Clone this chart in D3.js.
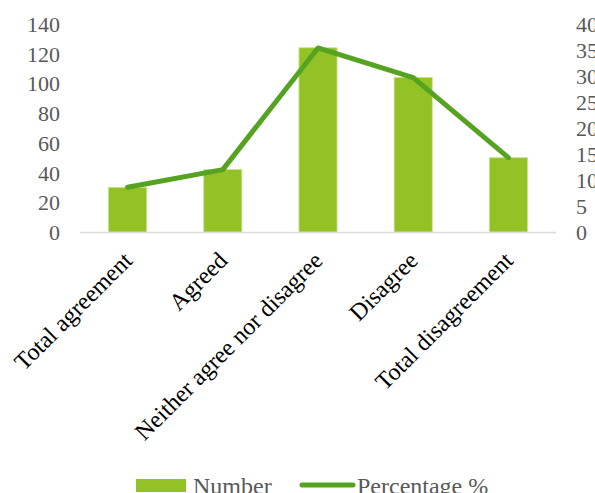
<!DOCTYPE html>
<html>
<head>
<meta charset="utf-8">
<script src="https://cdn.jsdelivr.net/npm/d3@7"></script>
<style>
  html, body { margin: 0; padding: 0; background: #fff; overflow: hidden; }
  svg { display: block; font-family: "Liberation Serif", "Times New Roman", serif; }
</style>
</head>
<body>
<svg id="chart" width="595" height="493"></svg>
<script>
// Survey responses: count and share of respondents per answer
const categories = ["Total agreement", "Agreed", "Neither agree nor disagree", "Disagree", "Total disagreement"];
const numbers = [30, 42, 124, 104, 50];
const percentages = [8.6, 12.0, 35.4, 29.7, 14.3];
const leftTicks = [0, 20, 40, 60, 80, 100, 120, 140];
const rightTicks = [0, 5, 10, 15, 20, 25, 30, 35, 40];

const svg = d3.select("#chart");
const plot = { left: 80, right: 556, top: 24, bottom: 232 };

const x = d3.scaleBand()
  .domain(categories)
  .range([plot.left, plot.right])
  .paddingInner(0.6)
  .paddingOuter(0.3);

const yLeft = d3.scaleLinear().domain([0, 140]).range([plot.bottom, plot.top]);
const yRight = d3.scaleLinear().domain([0, 40]).range([plot.bottom, plot.top]);

const barColor = "#93c225";
const lineColor = "#56a321";

// Bars (Number)
svg.append("g")
  .selectAll("rect")
  .data(numbers)
  .join("rect")
  .attr("x", (d, i) => x(categories[i]))
  .attr("y", d => yLeft(d))
  .attr("width", x.bandwidth())
  .attr("height", d => yLeft(0) - yLeft(d))
  .attr("fill", barColor)
  .attr("stroke", "#c8e38f")
  .attr("stroke-width", 0.8);

// Category axis baseline
svg.append("line")
  .attr("x1", plot.left).attr("x2", plot.right)
  .attr("y1", plot.bottom + 0.5).attr("y2", plot.bottom + 0.5)
  .attr("stroke", "#d9d9d9").attr("stroke-width", 1.5);

// Line (Percentage %)
const line = d3.line()
  .x((d, i) => x(categories[i]) + x.bandwidth() / 2)
  .y(d => yRight(d));

svg.append("path")
  .datum(percentages)
  .attr("d", line)
  .attr("fill", "none")
  .attr("stroke", lineColor)
  .attr("stroke-width", 5)
  .attr("stroke-linecap", "round")
  .attr("stroke-linejoin", "round");

// Left value axis
const leftAxis = d3.axisLeft(yLeft).tickValues(leftTicks).tickSize(0).tickPadding(0);
const gl = svg.append("g").attr("transform", `translate(60,0)`).call(leftAxis);
gl.select(".domain").remove();
gl.selectAll("text")
  .attr("font-family", "Liberation Serif, Times New Roman, serif")
  .attr("font-size", 22)
  .attr("fill", "#595959")
  .attr("dy", "0.34em");

// Right percentage axis
const rightAxis = d3.axisRight(yRight).tickValues(rightTicks).tickSize(0).tickPadding(0);
const gr = svg.append("g").attr("transform", `translate(576,0)`).call(rightAxis);
gr.select(".domain").remove();
gr.selectAll("text")
  .attr("font-family", "Liberation Serif, Times New Roman, serif")
  .attr("font-size", 22)
  .attr("fill", "#595959")
  .attr("dy", "0.34em");

// Rotated category labels
svg.append("g")
  .selectAll("text")
  .data(categories)
  .join("text")
  .attr("transform", d => `translate(${x(d) + x.bandwidth() / 2 + 6},${plot.bottom + 30}) rotate(-45)`)
  .attr("text-anchor", "end")
  .attr("font-size", 24)
  .attr("fill", "#000")
  .text(d => d);

// Legend
const legend = svg.append("g");
legend.append("rect")
  .attr("x", 136).attr("y", 479).attr("width", 50).attr("height", 13)
  .attr("fill", barColor);
legend.append("text")
  .attr("x", 193).attr("y", 494)
  .attr("font-size", 24).attr("fill", "#595959")
  .text("Number");
legend.append("line")
  .attr("x1", 302).attr("x2", 353).attr("y1", 485).attr("y2", 485)
  .attr("stroke", lineColor).attr("stroke-width", 5).attr("stroke-linecap", "round");
legend.append("text")
  .attr("x", 357).attr("y", 494)
  .attr("font-size", 24).attr("fill", "#595959")
  .text("Percentage %");
</script>
</body>
</html>
